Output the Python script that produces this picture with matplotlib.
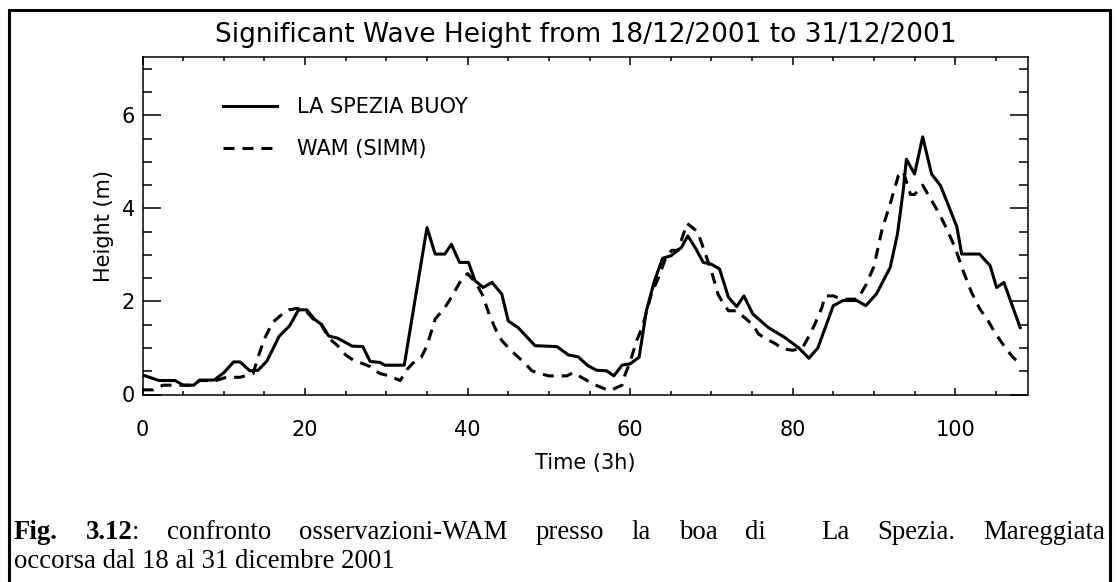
import matplotlib
matplotlib.use("Agg")
import matplotlib.pyplot as plt
from matplotlib.patches import Rectangle
from matplotlib.ticker import MultipleLocator

W, H = 1117, 582

titulo = "Significant Wave Height from 18/12/2001 to 31/12/2001"
etiqueta_x = "Time (3h)"
etiqueta_y = "Height (m)"
nombre_boya = "LA SPEZIA BUOY"
nombre_wam = "WAM (SIMM)"
ticks_x = [0, 20, 40, 60, 80, 100]
ticks_y = [0, 2, 4, 6]

# boya (linea continua)
t_boya = [0, 2, 4, 5, 6.3, 7, 8.8, 10, 11.2, 12, 13.2, 14.2, 15.3, 16.8, 18.1,
          19.2, 20.2, 21.2, 22, 22.9, 24, 25.8, 27.1, 28, 29.2, 29.8, 32.2, 35,
          36, 37.2, 38, 39, 40.1, 40.9, 41.9, 43, 44.2, 45, 46.2, 48.3, 51, 52.4,
          53.6, 54.8, 55.9, 57.1, 58, 59, 60, 61.1, 62, 63, 64, 65, 66.3, 67.1,
          68.1, 69, 70, 71, 72.1, 73.1, 74, 75.1, 77, 79, 80.7, 82, 83.1, 85,
          86.2, 87.9, 89, 90.3, 92, 92.9, 93.6, 94, 95, 96, 97.1, 98.2, 100.2,
          100.8, 103, 104.3, 105.1, 106, 108]
h_boya = [0.42, 0.30, 0.30, 0.20, 0.20, 0.31, 0.31, 0.47, 0.70, 0.70, 0.51, 0.52,
          0.72, 1.25, 1.48, 1.82, 1.82, 1.61, 1.51, 1.26, 1.21, 1.04, 1.03, 0.71,
          0.69, 0.63, 0.63, 3.59, 3.02, 3.02, 3.23, 2.84, 2.84, 2.45, 2.30, 2.41,
          2.16, 1.58, 1.44, 1.05, 1.03, 0.85, 0.81, 0.62, 0.52, 0.51, 0.40, 0.63,
          0.66, 0.80, 1.80, 2.45, 2.93, 2.98, 3.16, 3.41, 3.13, 2.84, 2.80, 2.70,
          2.09, 1.89, 2.12, 1.73, 1.44, 1.23, 1.01, 0.78, 1.00, 1.91, 2.02, 2.02,
          1.91, 2.16, 2.73, 3.45, 4.38, 5.06, 4.74, 5.54, 4.74, 4.49, 3.61, 3.02,
          3.02, 2.77, 2.30, 2.41, 1.44]

# modelo WAM (linea discontinua)
t_wam = [0, 1.3, 2.5, 4, 5, 6.3, 7, 9, 10.3, 12, 13.6, 14.2, 15, 16, 17, 18, 19,
         20, 21, 22, 23, 24, 25, 26, 27, 28, 29.2, 30.4, 31.7, 32.6, 33.3, 34.3,
         35, 36, 37.2, 38, 39, 40, 41, 41.8, 42.7, 43.5, 44.2, 45, 46, 47, 47.9,
         48.9, 50, 52.2, 53, 54.4, 55.5, 56.9, 57.5, 59, 59.4, 60, 60.8, 61.5,
         62.6, 63.5, 64.3, 65.1, 65.9, 67, 68.3, 69.2, 70, 70.8, 71.5, 72.1, 73.1,
         74.1, 75.1, 75.8, 76.8, 77.8, 78.8, 80, 81.2, 82, 82.7, 83.6, 84, 85, 86,
         88, 89, 90, 91, 92, 93, 93.6, 94.5, 95, 96, 97, 98, 99, 100, 101, 102,
         103, 104, 105, 106, 107, 107.6]
h_wam = [0.10, 0.10, 0.20, 0.20, 0.20, 0.20, 0.30, 0.30, 0.37, 0.37, 0.45, 0.80,
         1.20, 1.55, 1.70, 1.82, 1.85, 1.82, 1.62, 1.50, 1.20, 1.05, 0.85, 0.73,
         0.67, 0.60, 0.45, 0.40, 0.30, 0.55, 0.68, 0.80, 1.05, 1.62, 1.87, 2.09,
         2.40, 2.60, 2.40, 2.15, 1.70, 1.38, 1.16, 1.01, 0.84, 0.68, 0.51, 0.45,
         0.40, 0.40, 0.47, 0.33, 0.22, 0.12, 0.08, 0.20, 0.44, 0.70, 1.16, 1.45,
         2.15, 2.52, 2.90, 3.10, 3.10, 3.68, 3.50, 3.05, 2.66, 2.16, 1.95, 1.80,
         1.80, 1.65, 1.50, 1.30, 1.19, 1.10, 0.98, 0.95, 1.00, 1.25, 1.50, 1.87,
         2.12, 2.12, 2.05, 2.05, 2.35, 2.75, 3.55, 4.10, 4.70, 4.80, 4.30, 4.30,
         4.50, 4.20, 3.90, 3.55, 3.15, 2.65, 2.20, 1.85, 1.60, 1.30, 1.05, 0.82,
         0.72]

fig = plt.figure(figsize=(W / 100, H / 100), dpi=100)
ax = fig.add_axes([142.6 / W, 1 - 394.5 / H, (1028.3 - 142.6) / W, (394.5 - 57.3) / H])

lw = 2.2
ax.plot(t_boya, h_boya, color="black", lw=lw, label=nombre_boya)
ax.plot(t_wam, h_wam, color="black", lw=lw, linestyle=(0, (3.6, 2.6)), label=nombre_wam)

ax.set_xlim(0, 109)
ax.set_ylim(0, 7.25)
ax.set_xticks(ticks_x)
ax.set_yticks(ticks_y)
ax.xaxis.set_minor_locator(MultipleLocator(5))
ax.yaxis.set_minor_locator(MultipleLocator(0.5))
ax.tick_params(axis="x", which="major", direction="in", length=5.4, width=1.1,
               top=True, pad=18, labelsize=15)
ax.tick_params(axis="x", which="minor", direction="in", length=2.6, width=1.1, top=True)
ax.tick_params(axis="y", which="major", direction="in", length=13, width=1.1,
               right=True, pad=5.5, labelsize=15)
ax.tick_params(axis="y", which="minor", direction="in", length=6.5, width=1.1, right=True)
for s in ax.spines.values():
    s.set_linewidth(1.1)

ax.legend(loc="upper left", bbox_to_anchor=(0.0908, 0.881), frameon=False,
          fontsize=15, handlelength=2.6, handletextpad=0.96, labelspacing=1.04,
          borderpad=0, borderaxespad=0)

fig.text(585.5 / W, 1 - 34.5 / H, titulo, ha="center", va="center", fontsize=19)
fig.text(104 / W, 1 - 226 / H, etiqueta_y, ha="center", va="center", rotation=90, fontsize=15)
fig.text(585.5 / W, 1 - 463 / H, etiqueta_x, ha="center", va="center", fontsize=15)

# cornice esterna
fig.patches.append(Rectangle((8.5 / W, -0.05), (1110 - 8.5) / W, 1.05 - 9.5 / H,
                             transform=fig.transFigure, fill=False, lw=2.2,
                             edgecolor="black"))

# didascalia giustificata
serif = "Liberation Serif"
riga1 = [("Fig.", "bold", 0), ("3.12", "bold", 1), (":", "normal", 0),
         ("confronto", "normal", 1), ("osservazioni-WAM", "normal", 1),
         ("presso", "normal", 1), ("la", "normal", 1), ("boa", "normal", 1),
         ("di", "normal", 1), ("La", "normal", 2), ("Spezia.", "normal", 1),
         ("Mareggiata", "normal", 1)]
riga2 = "occorsa dal 18 al 31 dicembre 2001"

x0, x1 = 14, 1105
testi = [fig.text(0, 1 - 539 / H, t, fontsize=19.3, family=serif, weight=w, va="baseline")
         for t, w, g in riga1]
fig.canvas.draw()
r = fig.canvas.get_renderer()
larg = [t.get_window_extent(r).width for t in testi]
unita = sum(g for _, _, g in riga1)
spazio = (x1 - x0 - sum(larg)) / unita
x = x0
for (t, w, g), obj, l in zip(riga1, testi, larg):
    x += g * spazio
    obj.set_x(x / W)
    x += l
fig.text(x0 / W, 1 - 568 / H, riga2, fontsize=19.3, family=serif, va="baseline")

fig.savefig("out.png", dpi=100)
